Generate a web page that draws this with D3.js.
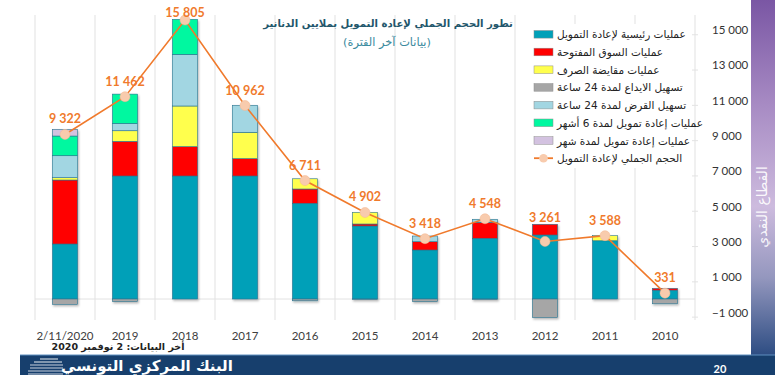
<!DOCTYPE html>
<html><head><meta charset="utf-8">
<script src="https://cdn.jsdelivr.net/npm/d3@7/dist/d3.min.js"></script>
<style>
html,body{margin:0;padding:0;background:#fff;}
svg{display:block;}
</style></head>
<body>
<svg id="chart" width="775" height="375"></svg>
<script>
const categories = ["2/11/2020","2019","2018","2017","2016","2015","2014","2013","2012","2011","2010"];
const mainOps    = [3116, 6969, 6969, 6969, 5422, 4136, 2776, 3440, 3626, 3300, 500];
const openMarket = [3626, 1964, 1662,  982,  810,  113,  470,  906,  606,    0, 100];
const fxSwap     = [ 130,  600, 2304, 1494,  580,  663,    0,    0,    0,  288,   0];
const deposit24  = [-300, -150,    0,    0, -100,  -20, -150,  -20,-1050,    0,-270];
const credit24   = [1246,  415, 2927, 1530,    0,    0,  323,  170,    0,    0,   0];
const sixMonth   = [1116, 1660, 1983,    0,    0,    0,    0,    0,    0,    0,   0];
const oneMonth   = [ 380,    0,    0,    0,    0,    0,    0,    0,    0,    0,   0];
const totalVol   = [9322, 11462, 15805, 10962, 6711, 4902, 3418, 4548, 3261, 3588, 331];
const yTicks     = [-1000, 1000, 3000, 5000, 7000, 9000, 11000, 13000, 15000];

const seriesKeys = ["main","open","swap","dep","cred","six","one"];
const seriesNames = {
  main:"عمليات رئيسية لإعادة التمويل",
  open:"عمليات السوق المفتوحة",
  swap:"عمليات مقايضة الصرف",
  dep:"تسهيل الايداع لمدة 24 ساعة",
  cred:"تسهيل القرض لمدة 24 ساعة",
  six:"عمليات إعادة تمويل لمدة 6 أشهر",
  one:"عمليات إعادة تمويل لمدة شهر"
};
const lineName = "الحجم الجملي لإعادة التمويل";
const colors = {main:"#00A0B8", open:"#FF0000", swap:"#FFFF4D", dep:"#A6A6A6", cred:"#A2D6E2", six:"#00F8A0", one:"#D3C2E0"};
const lineColor = "#F07A2C", markerFill = "#F8CBAD";

const rows = categories.map((c,i)=>({cat:c, main:mainOps[i], open:openMarket[i], swap:fxSwap[i], dep:deposit24[i], cred:credit24[i], six:sixMonth[i], one:oneMonth[i], total:totalVol[i]}));

const svg = d3.select("#chart");
const fmt = d3.formatLocale({decimal:".", thousands:" ", grouping:[3], currency:["",""]}).format(",");
const arabicFont = "'DejaVu Sans', 'Noto Sans', sans-serif";
const numFont = "Lato, 'Open Sans', sans-serif";

function fitWidth(sel, w){
  const n = sel.node(); const cur = n.getComputedTextLength();
  if (cur > 0) { const fs = parseFloat(sel.attr("font-size")); sel.attr("font-size", (fs*w/cur).toFixed(2)); }
}

const x = d3.scaleBand().domain(categories).range([35, 695]).paddingInner(0.58).paddingOuter(0.29);
const y = d3.scaleLinear().domain([-1000, 15000]).range([316.65, 34.25]);

// defs
const defs = svg.append("defs");
const grad = defs.append("linearGradient").attr("id","band").attr("x1",0).attr("y1",0).attr("x2",0).attr("y2",1);
[[0,"#7A56A4"],[0.3,"#A88CC4"],[0.58,"#CDBBDE"],[0.78,"#9497BE"],[1,"#2C4C82"]].forEach(s=>grad.append("stop").attr("offset",s[0]).attr("stop-color",s[1]));
const sh = defs.append("filter").attr("id","shadow").attr("x","-20%").attr("y","-20%").attr("width","150%").attr("height","150%");
sh.append("feDropShadow").attr("dx",1).attr("dy",1.5).attr("stdDeviation",0.8).attr("flood-color","#000").attr("flood-opacity",0.3);

// grid
const grid = svg.append("g");
d3.range(categories.length+1).forEach(k=>{
  const gx = 35 + x.step()*k;
  grid.append("line").attr("x1",gx).attr("x2",gx).attr("y1",15).attr("y2",320).attr("stroke","#EBEBEB").attr("stroke-width",1.5);
});
grid.append("line").attr("x1",35).attr("x2",695).attr("y1",y(0)).attr("y2",y(0)).attr("stroke","#E2E2E2").attr("stroke-width",1);

// right band
svg.append("rect").attr("x",751).attr("y",0).attr("width",24).attr("height",356).attr("fill","url(#band)");
svg.append("text").attr("transform","translate(767,207) rotate(-90)").attr("text-anchor","middle")
  .attr("font-family",arabicFont).attr("font-size",14).attr("fill","#fff").attr("fill-opacity",0.92)
  .text("القطاع النقدي");

// legend
const lg = svg.append("g");
lg.append("rect").attr("x",521).attr("y",24).attr("width",172).attr("height",144).attr("fill","#fff");
const legendKeys = ["main","open","swap","dep","cred","six","one"];
legendKeys.forEach((k,i)=>{
  const ly = 34.3 + i*17.7;
  lg.append("rect").attr("x",534).attr("y",ly-3.8).attr("width",19).attr("height",7.6)
    .attr("fill",colors[k]).attr("stroke","#8C8C8C").attr("stroke-width",0.5);
  lg.append("text").attr("x",557).attr("y",ly+4).attr("font-family",arabicFont).attr("font-size",10.5).attr("fill","#222").text(seriesNames[k]);
});
{
  const ly = 34.3 + 7*17.7;
  lg.append("line").attr("x1",534).attr("x2",553).attr("y1",ly).attr("y2",ly).attr("stroke",lineColor).attr("stroke-width",1.8);
  lg.append("circle").attr("cx",543.5).attr("cy",ly).attr("r",4.3).attr("fill",markerFill);
  lg.append("text").attr("x",557).attr("y",ly+4).attr("font-family",arabicFont).attr("font-size",10.5).attr("fill","#222").text(lineName);
}

// bars
const stack = d3.stack().keys(seriesKeys).offset(d3.stackOffsetDiverging);
const stacked = stack(rows);
const barsG = svg.append("g").attr("filter","url(#shadow)");
stacked.forEach(layer=>{
  barsG.append("g").selectAll("rect").data(layer.filter(d=>d[1]!==d[0])).join("rect")
    .attr("x",d=>x(d.data.cat)).attr("width",x.bandwidth())
    .attr("y",d=>y(Math.max(d[0],d[1]))).attr("height",d=>Math.abs(y(d[0])-y(d[1])))
    .attr("fill",colors[layer.key]).attr("stroke","#2A7490").attr("stroke-width",0.6);
});

// axis
const axis = d3.axisRight(y).tickValues(yTicks).tickSize(0).tickPadding(17).tickFormat(d=>fmt(d));
const ag = svg.append("g").attr("transform","translate(695,0)").call(axis);
ag.select(".domain").remove();
ag.selectAll(".tick text").attr("font-family",numFont).attr("font-size",11.5).attr("fill","#333").attr("dy","-0.05em");
ag.selectAll(".tick").append("line").attr("x1",-3).attr("x2",3).attr("stroke","#E3E3E3");

// x labels
svg.append("g").selectAll("text").data(categories).join("text")
  .attr("x",d=>x(d)+x.bandwidth()/2).attr("y",340).attr("text-anchor","middle")
  .attr("font-family",numFont).attr("font-size",11.5).attr("fill","#404040").text(d=>d);

// title
const title = svg.append("text").attr("x",388).attr("y",27).attr("text-anchor","middle").attr("direction","rtl")
  .attr("font-family",arabicFont).attr("font-weight","bold").attr("font-size",13).attr("fill","#22566B")
  .text("تطور الحجم الجملي لإعادة التمويل بملايين الدنانير");
fitWidth(title, 250);
const sub = svg.append("text").attr("x",387).attr("y",46).attr("text-anchor","middle").attr("direction","rtl")
  .attr("font-family",arabicFont).attr("font-size",11).attr("fill","#3A8A9E")
  .text("(بيانات آخر الفترة)");
fitWidth(sub, 88);

// line
const cx = d=>x(d.cat)+x.bandwidth()/2;
svg.append("path").datum(rows).attr("fill","none").attr("stroke",lineColor).attr("stroke-width",1.6)
  .attr("d",d3.line().x(cx).y(d=>y(d.total)));
svg.append("g").selectAll("circle").data(rows).join("circle")
  .attr("cx",cx).attr("cy",d=>y(d.total)).attr("r",5).attr("fill",markerFill).attr("stroke","#F3B690").attr("stroke-width",0.5);
const posTop = rows.map((d,i)=>d3.max(stacked, l=>l[i][1]));
svg.append("g").selectAll("text").data(rows).join("text")
  .attr("x",cx).attr("text-anchor","middle")
  .attr("y",(d,i)=>Math.max(17, Math.min(y(d.total)-11, y(posTop[i])-2)))
  .attr("font-family",numFont).attr("font-weight","bold").attr("font-size",12.5).attr("fill","#F07A2C")
  .text(d=>fmt(d.total));

// note
svg.append("text").attr("x",118).attr("y",350).attr("text-anchor","middle").attr("direction","rtl")
  .attr("font-family",arabicFont).attr("font-weight","bold").attr("font-size",9.5).attr("fill","#222")
  .text("أخر البيانات: 2 نوفمبر 2020");

// footer
svg.append("rect").attr("x",20).attr("y",355).attr("width",755).attr("height",20).attr("fill","#173F6D");
svg.append("line").attr("x1",20).attr("x2",775).attr("y1",355).attr("y2",355).attr("stroke","#5F8FBF").attr("stroke-width",1);
const logo = svg.append("g").attr("stroke","#C9D2DD").attr("stroke-width",1.2);
[[40,58,359],[34,62,362],[30,63,365],[30,63,368],[28,63,371],[28,63,374]].forEach(s=>logo.append("line").attr("x1",s[0]).attr("x2",s[1]).attr("y1",s[2]).attr("y2",s[2]));
svg.append("text").attr("x",147).attr("y",371).attr("text-anchor","middle")
  .attr("font-family",arabicFont).attr("font-weight","bold").attr("font-size",15).attr("fill","#fff")
  .text("البنك المركزي التونسي");
svg.append("text").attr("x",720).attr("y",373).attr("text-anchor","middle")
  .attr("font-family",numFont).attr("font-weight","bold").attr("font-size",11).attr("fill","#fff").text("20");
</script>
</body></html>
